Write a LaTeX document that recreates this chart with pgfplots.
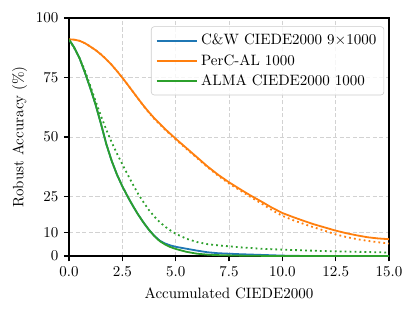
\documentclass[border=0pt]{standalone}
\usepackage{pgfplots}
\pgfplotsset{compat=1.18}
\definecolor{tabblue}{HTML}{1F77B4}
\definecolor{taborange}{HTML}{FF7F0E}
\definecolor{tabgreen}{HTML}{2CA02C}
\begin{document}
\begin{tikzpicture}
\path[use as bounding box] (-46pt,-38.7pt) rectangle (231.3pt,170.7pt);
\begin{axis}[
  at={(0pt,0pt)}, anchor=south west,
  scale only axis, width=213.3pt, height=158.7pt,
  xmin=0, xmax=15, ymin=0, ymax=100,
  xtick={0,2.5,5,7.5,10,12.5,15},
  xticklabels={0.0,2.5,5.0,7.5,10.0,12.5,15.0},
  ytick={0,10,25,50,75,100},
  tick pos=left, tick align=outside,
  major tick length=3.5pt,
  every tick/.style={black, line width=0.8pt},
  axis line style={line width=0.8pt},
  grid=major,
  major grid style={gray!35, dash pattern=on 2.8pt off 1.6pt, line width=0.6pt},
  xlabel={Accumulated CIEDE2000},
  ylabel={Robust Accuracy (\%)},
  xlabel style={yshift=-0.5pt},
  ylabel style={yshift=-1pt},
  legend style={at={(0.985,0.965)}, anchor=north east, draw=gray!40, rounded corners=2pt, fill=white, fill opacity=0.8, text opacity=1, draw opacity=1, font=\normalsize, row sep=0.8pt, inner xsep=3pt, inner ysep=3pt},
  legend cell align=left,
  legend image code/.code={\draw[#1, line width=1.3pt, opacity=1] (0pt,0pt) -- (20pt,0pt); \path (0pt,0pt) -- (27pt,0pt);},
]
\addplot[tabblue, line width=1.2pt] coordinates {
(0,91) (0.25,87.5) (0.5,83) (0.75,77) (1.0,70.5) (1.25,63.5) (1.5,55.5) (1.75,47) (2.0,40) (2.25,34.2) (2.5,29.3) (2.75,25) (3.0,21) (3.25,17.3) (3.5,14) (3.75,11) (4.0,8.5) (4.25,6.5) (4.5,5.3) (4.75,4.5) (5.0,3.9) (5.5,3.1) (6.0,2.3) (6.5,1.6) (7.0,1.2) (7.5,1.0) (8.0,0.8) (9.0,0.5) (10.0,0.2) (11,0.05) (15,0)
};
\addlegendentry{C\&W CIEDE2000 9$\times$1000}
\addplot[taborange, line width=1.2pt] coordinates {
(0,91) (0.25,90.9) (0.5,90.4) (0.75,89.4) (1.0,88) (1.25,86.5) (1.5,84.7) (1.75,82.6) (2.0,80.3) (2.25,77.7) (2.5,74.9) (2.75,72) (3.0,69) (3.25,66) (3.5,63.1) (3.75,60.4) (4.0,57.9) (4.5,53.4) (5.0,49.3) (5.5,45.4) (6.0,41.5) (6.5,37.6) (7.0,34.1) (7.5,31) (8.0,28.2) (8.5,25.5) (9.0,23) (9.5,20.4) (10.0,18.1) (10.5,16.4) (11.0,14.8) (11.5,13.3) (12.0,12) (12.5,10.7) (13.0,9.6) (13.5,8.7) (14.0,7.9) (14.5,7.4) (15,7.1)
};
\addlegendentry{PerC-AL 1000}
\addplot[tabgreen, line width=1.2pt] coordinates {
(0,91) (0.25,87.5) (0.5,83) (0.75,77) (1.0,70.5) (1.25,63.5) (1.5,55.5) (1.75,47) (2.0,40) (2.25,34.2) (2.5,29.3) (2.75,25) (3.0,21) (3.25,17.3) (3.5,14) (3.75,11) (4.0,8.4) (4.25,6.3) (4.5,4.9) (4.75,3.8) (5.0,3.0) (5.5,1.8) (6.0,1.0) (6.5,0.6) (7.0,0.4) (8.0,0.2) (9.0,0.1) (10,0) (15,0)
};
\addlegendentry{ALMA CIEDE2000 1000}
\addplot[taborange, line width=1.2pt, dash pattern=on 1.2pt off 2.1pt, forget plot] coordinates {
(0,91) (0.25,90.9) (0.5,90.4) (0.75,89.4) (1.0,88) (1.25,86.5) (1.5,84.7) (1.75,82.6) (2.0,80.3) (2.25,77.7) (2.5,74.9) (2.75,72) (3.0,69) (3.25,66) (3.5,63) (3.75,60.2) (4.0,57.6) (4.5,53.1) (5.0,49) (5.5,45.1) (6.0,41.2) (6.5,37.3) (7.0,33.7) (7.5,30.5) (8.0,27.7) (8.5,24.9) (9.0,22.2) (9.5,19.4) (10.0,16.9) (10.5,15.1) (11.0,13.5) (11.5,12) (12.0,10.6) (12.5,9.1) (13.0,8.0) (13.5,7.1) (14.0,6.4) (14.5,5.8) (15,5.3)
};
\addplot[tabgreen, line width=1.2pt, dash pattern=on 1.2pt off 2.1pt, forget plot] coordinates {
(0,91) (0.25,87.3) (0.5,83) (0.75,77.8) (1.0,71.5) (1.25,65) (1.5,58.8) (1.75,53) (2.0,47.8) (2.25,43) (2.5,38.5) (2.75,34.2) (3.0,30) (3.25,26) (3.5,22.5) (3.75,19.3) (4.0,16.6) (4.25,14.3) (4.5,12.4) (4.75,10.8) (5.0,9.4) (5.5,7.3) (6.0,5.9) (6.5,5.0) (7.0,4.5) (7.5,4.1) (8.0,3.7) (9.0,3.1) (10.0,2.7) (11.0,2.4) (12.0,2.1) (13.0,1.9) (14.0,1.7) (15.0,1.5)
};
\end{axis}
\end{tikzpicture}
\end{document}
